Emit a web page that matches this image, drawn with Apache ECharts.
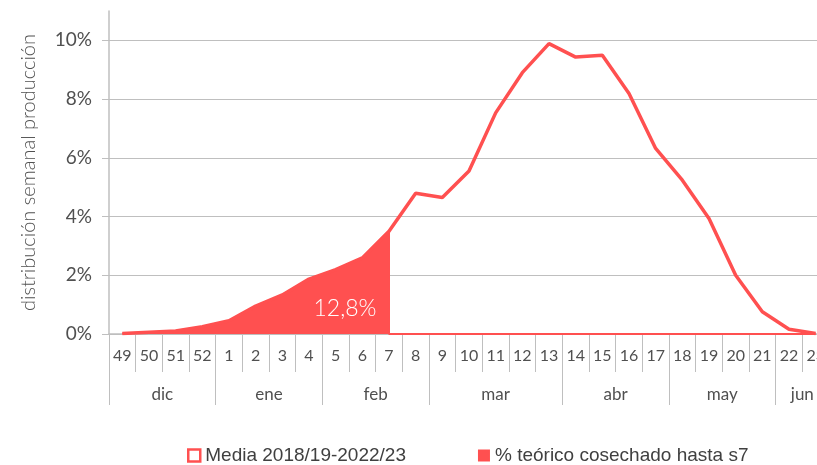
<!DOCTYPE html>
<html><head><meta charset="utf-8">
<script src="https://cdn.jsdelivr.net/npm/echarts@6.0.0/dist/echarts.min.js"></script>
<style>html,body{margin:0;padding:0;background:#fff}#c{width:817px;height:465px}</style>
</head><body><div id="c"></div>
<script>
// ---- data ----
const weeks = ['49','50','51','52','1','2','3','4','5','6','7','8','9','10','11','12','13','14','15','16','17','18','19','20','21','22','23'];
const media = [0.02,0.06,0.10,0.25,0.45,0.95,1.33,1.87,2.19,2.59,3.50,4.79,4.65,5.55,7.53,8.90,9.89,9.43,9.49,8.19,6.32,5.24,3.93,2.00,0.76,0.16,0.02];
const cutWeek = '7';
const cutLabel = '12,8%';
const months = ['dic','ene','feb','mar','abr','may','jun'];
const monthWeeks = [4,4,4,5,4,4,2];
const yTicks = [0,2,4,6,8,10];
const seriesNames = ['Media 2018/19-2022/23','% teórico cosechado hasta s7'];
const yName = 'distribución semanal producción';

// ---- derived ----
const RED = '#FF5050';
const GRID = '#BFBFBF';
const TXT = '#505050';
const cutIdx = weeks.indexOf(cutWeek);
const mediaData = media.map((v,i)=>[i,v]);
const cutData = media.slice(0,cutIdx+1).map((v,i)=>[i,v]);
cutData.push([cutIdx,0]);
cutData.push([weeks.length-1,0]);

const nHalf = weeks.length*2;
const halfCats = [];
for(let k=0;k<=nHalf;k++) halfCats.push(String(k));
const tickIdx = new Set([0]);
const labelMap = {};
let pos = 0;
months.forEach((m,i)=>{ labelMap[pos+monthWeeks[i]] = m; pos += 2*monthWeeks[i]; tickIdx.add(pos); });

const chart = echarts.init(document.getElementById('c'), null, {renderer:'canvas'});
chart.setOption({
  animation:false,
  backgroundColor:'#fff',
  grid:{left:109, width:720, top:11, bottom:131, containLabel:false, outerBoundsMode:'none'},
  legend:{
    left:182, top:441, itemWidth:12, itemHeight:12, itemGap:72, itemTextGap:11,
    textStyle:{fontFamily:'Liberation Sans', fontSize:19, color:'#404040'},
    data:[
      {name:seriesNames[0], icon:'rect', itemStyle:{color:'#fff', borderColor:RED, borderWidth:2.5}},
      {name:seriesNames[1], icon:'rect', itemStyle:{color:RED}}
    ]
  },
  xAxis:[
    {type:'value', min:-0.5, max:weeks.length-0.5, show:false},
    {type:'category', data:weeks, position:'bottom', boundaryGap:true,
     axisLine:{show:true, onZero:false, lineStyle:{color:GRID, width:1.5}},
     axisTick:{show:true, length:38, lineStyle:{color:GRID, width:1}},
     axisLabel:{margin:14, fontFamily:'Lato', fontSize:16, color:TXT, interval:0, hideOverlap:false},
     splitLine:{show:false}},
    {type:'category', data:halfCats, position:'bottom', boundaryGap:false,
     axisLine:{show:false, onZero:false},
     axisTick:{show:true, length:71, interval:(i)=>tickIdx.has(i), lineStyle:{color:GRID, width:1}},
     axisLabel:{margin:52, fontFamily:'Lato', fontSize:17, color:TXT,
       interval:(i)=>labelMap[i]!==undefined, formatter:(v)=>labelMap[+v]||''},
     splitLine:{show:false}}
  ],
  yAxis:{
    type:'value', min:0, max:11, interval:2,
    name:yName, nameLocation:'middle', nameGap:70,
    nameTextStyle:{fontFamily:'Lato', fontSize:20, fontWeight:300, color:TXT},
    axisLine:{show:true, onZero:false, lineStyle:{color:GRID, width:1.5}},
    axisTick:{show:true, length:7, customValues:yTicks, lineStyle:{color:GRID}},
    axisLabel:{margin:17, fontFamily:'Lato', fontSize:19, color:TXT,
      formatter:(v)=> v>10 ? '' : v+'%'},
    splitLine:{show:true, lineStyle:{color:GRID, width:1.2}}
  },
  series:[
    {name:seriesNames[0], type:'line', xAxisIndex:0, data:mediaData, symbol:'none', z:4,
     lineStyle:{color:RED, width:3.5}, itemStyle:{color:RED}},
    {name:seriesNames[1], type:'line', xAxisIndex:0, data:cutData, symbol:'none', z:3,
     lineStyle:{color:RED, width:2}, itemStyle:{color:RED},
     areaStyle:{color:RED, opacity:1},
     markPoint:{symbol:'circle', symbolSize:0,
       data:[{coord:[cutIdx-1.65, 0.85], value:cutLabel}],
       label:{show:true, position:'inside', formatter:cutLabel, color:'#fff', fontFamily:'Lato', fontWeight:300, fontSize:23}}}
  ]
});
</script></body></html>
